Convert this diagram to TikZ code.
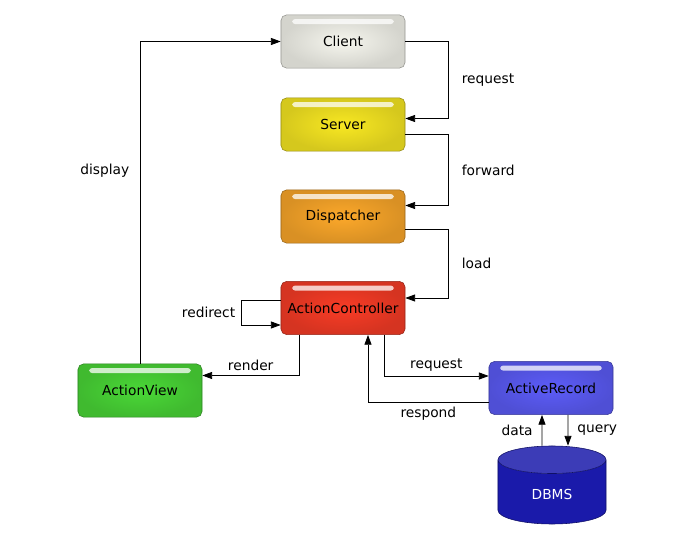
\documentclass[tikz,border=0pt]{standalone}
\usepackage{fontspec}
\setmainfont{DejaVu Sans}
\usetikzlibrary{arrows.meta, shapes.geometric, calc}
\definecolor{clientc}{HTML}{F6F6EE}
\definecolor{serverc}{HTML}{F8E822}
\definecolor{dispc}{HTML}{FCA82A}
\definecolor{ctrlc}{HTML}{F83C26}
\definecolor{viewc}{HTML}{4AD837}
\definecolor{recc}{HTML}{5C5CF8}
\definecolor{dbc}{HTML}{1A1AAA}

\begin{document}
\begin{tikzpicture}[x=0.025cm, y=-0.025cm, ->, >={Triangle[length=7pt,width=5pt]}, semithick,
    font=\fontsize{9.8}{12}\selectfont,
    box/.style={rectangle, rounded corners=4pt, minimum width=3.1cm, minimum height=1.33cm,
        draw=#1!60!black, thin, inner color=#1, outer color=#1!86!black,
        path picture={\fill[white, opacity=0.75, rounded corners=2pt]
            ([shift={(8pt,-3pt)}]path picture bounding box.north west) rectangle
            ([shift={(-8pt,-6.5pt)}]path picture bounding box.north east);}}]

    \useasboundingbox (0,0) rectangle (700,550);

    % boxes
    \node[box=clientc] (client) at (343,41.5) {Client};
    \node[box=serverc] (server) at (343,124.5) {Server};
    \node[box=dispc] (disp) at (343,216.5) {Dispatcher};
    \node[box=ctrlc] (ctrl) at (343,308) {ActionController};
    \node[box=viewc] (view) at (140,390.5) {ActionView};
    \node[box=recc] (rec) at (551,388) {ActiveRecord};
    \node[cylinder, shape border rotate=90, aspect=0.55, minimum width=2.7cm, minimum height=1.95cm,
        draw=dbc!60!black, thin, cylinder uses custom fill, cylinder body fill=dbc,
        cylinder end fill=dbc!85!white, text=white, anchor=shape center] (dbms) at (552,485) {DBMS};

    % flow
    \draw (client.east) -- ++(43,0) |- ($(server.east)+(0,-6)$) node[pos=0.25, right=6pt] {request};
    \draw ($(server.east)+(0,10)$) -- ++(43,0) |- ($(disp.east)+(0,-11)$) node[pos=0.25, right=6pt] {forward};
    \draw ($(disp.east)+(0,13)$) -- ++(43,0) |- ($(ctrl.east)+(0,-10)$) node[pos=0.25, right=6pt] {load};
    \draw ($(ctrl.west)+(0,-8)$) -- ++(-39,0) -- ++(0,25) node[midway, left=1pt] {redirect} -- ($(ctrl.west)+(0,17)$);
    \draw ($(ctrl.south)+(-44,0)$) |- ($(view.east)+(0,-15)$) node[pos=0.75, above] {render};
    \draw (view.north) |- (client.west) node[pos=0.3, left=4pt] {display};
    \draw ($(ctrl.south)+(41,0)$) |- ($(rec.west)+(0,-12)$) node[pos=0.75, above] {request};
    \draw ($(rec.west)+(0,14)$) -| ($(ctrl.south)+(25,0)$) node[pos=0.25, below] {respond};
    \draw ($(dbms.north)+(-10,0)$) -- ($(rec.south)+(-9,0)$) node[midway, left=3pt] {data};
    \draw ($(rec.south)+(17,0)$) -- ($(dbms.north)+(16,0)$) node[midway, right=3pt] {query};

\end{tikzpicture}
\end{document}
